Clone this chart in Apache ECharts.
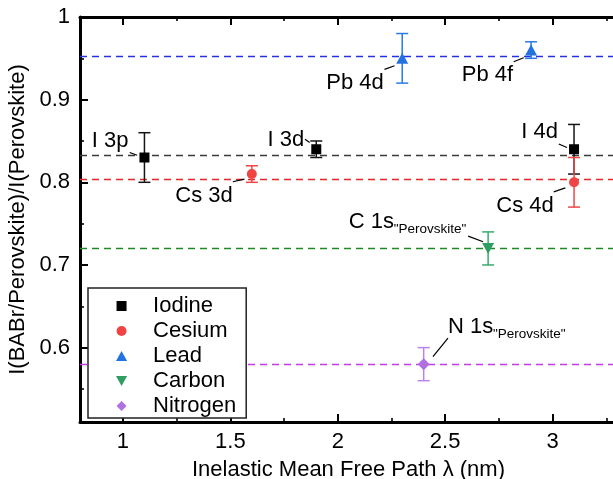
<!DOCTYPE html>
<html>
<head>
<meta charset="utf-8">
<script src="https://cdn.jsdelivr.net/npm/echarts@6/dist/echarts.min.js"></script>
<style>
  html, body { margin: 0; padding: 0; background: #fff; }
  #chart { width: 613px; height: 479px; }
</style>
</head>
<body>
<div id="chart"></div>
<script>
// Intensity ratio of each core level vs. its inelastic mean free path (nm)
const iodineLevels = ['I 3p', 'I 3d', 'I 4d'];
const iodineLambda = [1.1, 1.9, 3.1];
const iodineRatio  = [0.83, 0.84, 0.84];
const iodineError  = [0.03, 0.01, 0.03];

const cesiumLevels = ['Cs 3d', 'Cs 4d'];
const cesiumLambda = [1.6, 3.1];
const cesiumRatio  = [0.81, 0.80];
const cesiumError  = [0.01, 0.03];

const leadLevels = ['Pb 4d', 'Pb 4f'];
const leadLambda = [2.3, 2.9];
const leadRatio  = [0.95, 0.96];
const leadError  = [0.03, 0.01];

const carbonLevels = ['C 1s'];
const carbonLambda = [2.7];
const carbonRatio  = [0.72];
const carbonError  = [0.02];

const nitrogenLevels = ['N 1s'];
const nitrogenLambda = [2.4];
const nitrogenRatio  = [0.58];
const nitrogenError  = [0.02];

// Average ratio per element (dashed reference lines)
const elementNames = ['Iodine', 'Cesium', 'Lead', 'Carbon', 'Nitrogen'];
const elementMeans = [0.833, 0.804, 0.953, 0.72, 0.58];

// Axis ticks
const xMajorTicks = [1, 1.5, 2, 2.5, 3];
const xMinorTicks = [1.25, 1.75, 2.25, 2.75, 3.25];
const yMajorTicks = [0.6, 0.7, 0.8, 0.9, 1];
const yMinorTicks = [0.55, 0.65, 0.75, 0.85, 0.95];

const FONT = '"Liberation Sans", Arial, Helvetica, sans-serif';

const groups = [
  { levels: iodineLevels,   x: iodineLambda,   y: iodineRatio,   err: iodineError },
  { levels: cesiumLevels,   x: cesiumLambda,   y: cesiumRatio,   err: cesiumError },
  { levels: leadLevels,     x: leadLambda,     y: leadRatio,     err: leadError },
  { levels: carbonLevels,   x: carbonLambda,   y: carbonRatio,   err: carbonError },
  { levels: nitrogenLevels, x: nitrogenLambda, y: nitrogenRatio, err: nitrogenError }
];

// Marker shapes as paths so the legend keeps their proportions
const looks = [
  { marker: '#000000', bar: '#151515', line: '#3a3a3a', symbol: 'path://M0,0H10V10H0Z',           size: [10, 10] },
  { marker: '#f04444', bar: '#ee4848', line: '#e8262a', symbol: 'circle',                          size: [10, 10] },
  { marker: '#2272e0', bar: '#2a7ae2', line: '#2432e4', symbol: 'path://M5,0L10,9H0Z',            size: [12, 11] },
  { marker: '#2f9e63', bar: '#3aaa6c', line: '#1f8a24', symbol: 'path://M0,0H10L5,9Z',            size: [12, 11] },
  { marker: '#b070e0', bar: '#b884e8', line: '#c23ce4', symbol: 'path://M5,0L10,5L5,10L0,5Z',     size: [12, 12] }
];

// Annotation placement, in pixels relative to the marker
const labelPlacement = {
  'I 3p':  { tx: -16,    ty: -17,   align: 'right', lead: [-14.7, -5, -7.3, -2.3] },
  'I 3d':  { tx: -12,    ty: -9,    align: 'right', lead: [-11.3, -10, -6.6, -6.7] },
  'I 4d':  { tx: -16,    ty: -17.7, align: 'right', lead: [-15.3, -5.3, -7, -1.7] },
  'Cs 3d': { tx: -19,    ty: 22.3,  align: 'right', lead: [-19, 7.7, -7.4, 5] },
  'Cs 4d': { tx: -20.3,  ty: 23.3,  align: 'right', lead: [-20.3, 9.6, -8.7, 5.6] },
  'Pb 4d': { tx: -18.4,  ty: 25,    align: 'right', lead: [-17.7, 11, -7.7, 7.4] },
  'Pb 4f': { tx: -18,    ty: 25,    align: 'right', lead: [-17.4, 11.7, -7.4, 7.7] },
  'C 1s':  { tx: -139.4, ty: -26.3, align: 'left', sub: '"Perovskite"', sx: 45, sy: -19.1, lead: [-20, -12.3, -5, -6.7] },
  'N 1s':  { tx: 24.3,   ty: -37.3, align: 'left', sub: '"Perovskite"', sx: 45, sy: -29.8, lead: [24.3, -26, 9.3, -7.6] }
};

function makeRender(gi) {
  const g = groups[gi];
  const look = looks[gi];
  return function (params, api) {
    const x = api.value(0), y = api.value(1), e = api.value(2);
    const p = api.coord([x, y]);
    const hi = api.coord([x, y + e]);
    const lo = api.coord([x, y - e]);
    const barStyle = { stroke: look.bar, lineWidth: 1.5 };
    const children = [
      { type: 'line', shape: { x1: p[0], y1: hi[1], x2: p[0], y2: lo[1] }, style: barStyle },
      { type: 'line', shape: { x1: p[0] - 6, y1: hi[1], x2: p[0] + 6, y2: hi[1] }, style: barStyle },
      { type: 'line', shape: { x1: p[0] - 6, y1: lo[1], x2: p[0] + 6, y2: lo[1] }, style: barStyle }
    ];
    const name = g.levels[params.dataIndex];
    const L = labelPlacement[name];
    if (L) {
      children.push({
        type: 'line',
        shape: { x1: p[0] + L.lead[0], y1: p[1] + L.lead[1], x2: p[0] + L.lead[2], y2: p[1] + L.lead[3] },
        style: { stroke: '#000', lineWidth: 1.2 }
      });
      children.push({
        type: 'text',
        style: {
          x: p[0] + L.tx, y: p[1] + L.ty, text: name, fill: '#000',
          font: '22px ' + FONT, align: L.align, verticalAlign: 'middle'
        }
      });
      if (L.sub) {
        children.push({
          type: 'text',
          style: {
            x: p[0] + L.tx + L.sx, y: p[1] + L.sy, text: L.sub, fill: '#000',
            font: '13.5px ' + FONT, align: 'left', verticalAlign: 'middle'
          }
        });
      }
    }
    return { type: 'group', children: children };
  };
}

const series = [];
groups.forEach(function (g, gi) {
  const pts = g.x.map(function (xv, i) { return [xv, g.y[i], g.err[i]]; });
  series.push({
    type: 'custom',
    name: elementNames[gi] + ' error',
    renderItem: makeRender(gi),
    data: pts,
    encode: { x: 0, y: 1 },
    z: 3,
    silent: true,
    clip: false
  });
});
groups.forEach(function (g, gi) {
  const look = looks[gi];
  series.push({
    type: 'scatter',
    name: elementNames[gi],
    data: g.x.map(function (xv, i) { return [xv, g.y[i]]; }),
    symbol: look.symbol,
    symbolSize: look.size,
    itemStyle: { color: look.marker, opacity: 1 },
    z: 4,
    silent: true,
    markLine: {
      silent: true,
      precision: 4,
      symbol: ['none', 'none'],
      label: { show: false },
      z: 2,
      lineStyle: { color: look.line, type: [7, 5], width: 1.3 },
      data: [{ yAxis: elementMeans[gi] }]
    }
  });
});

const axisText = { fontFamily: FONT, fontSize: 22, color: '#000' };
const blank = { show: false };

function xAx(pos, ticks, len, labelled) {
  const ax = {
    type: 'value', min: 0.8, max: 3.3, position: pos,
    axisLine: { show: len > 5, onZero: false, lineStyle: { color: '#000', width: 3 } },
    axisTick: { show: true, inside: true, length: len, customValues: ticks,
                lineStyle: { color: '#000', width: len > 5 ? 2 : 1.6 } },
    axisLabel: labelled ? Object.assign({ show: true, margin: 9, customValues: ticks }, axisText) : blank,
    splitLine: blank
  };
  if (labelled) {
    ax.name = 'Inelastic Mean Free Path λ (nm)';
    ax.nameLocation = 'middle';
    ax.nameGap = 37;
    ax.nameTextStyle = Object.assign({}, axisText);
  }
  return ax;
}
function yAx(ticks, len, labelled) {
  const ax = {
    type: 'value', min: 0.51, max: 1, position: 'left',
    axisLine: { show: len > 5, onZero: false, lineStyle: { color: '#000', width: 3 } },
    axisTick: { show: true, inside: true, length: len, customValues: ticks,
                lineStyle: { color: '#000', width: len > 5 ? 2 : 1.6 } },
    axisLabel: labelled ? Object.assign({ show: true, margin: 10, customValues: ticks }, axisText) : blank,
    splitLine: blank
  };
  if (labelled) {
    ax.name = 'I(BABr/Perovskite)/I(Perovskite)';
    ax.nameLocation = 'middle';
    ax.nameGap = 42;
    ax.nameTextStyle = Object.assign({}, axisText);
  }
  return ax;
}

const option = {
  animation: false,
  backgroundColor: '#ffffff',
  textStyle: { fontFamily: FONT },
  grid: { left: 80, right: -4, top: 17, bottom: 57, containLabel: false, outerBoundsMode: 'none' },
  xAxis: [
    xAx('bottom', xMajorTicks, 8, true),
    xAx('bottom', xMinorTicks, 4, false),
    xAx('top', xMajorTicks, 8, false),
    xAx('top', xMinorTicks, 4, false)
  ],
  yAxis: [
    yAx(yMajorTicks, 8, true),
    yAx(yMinorTicks, 4, false)
  ],
  legend: {
    data: elementNames,
    orient: 'vertical',
    left: 88,
    top: 288,
    padding: [7, 10, 1, 28],
    itemWidth: 53,
    itemHeight: 10,
    itemGap: 3,
    backgroundColor: '#ffffff',
    borderColor: '#222',
    borderWidth: 1.5,
    selectedMode: false,
    textStyle: { fontFamily: FONT, fontSize: 22, color: '#000', lineHeight: 22 }
  },
  series: series
};

const chart = echarts.init(document.getElementById('chart'), null, { renderer: 'canvas' });
chart.setOption(option);
</script>
</body>
</html>
